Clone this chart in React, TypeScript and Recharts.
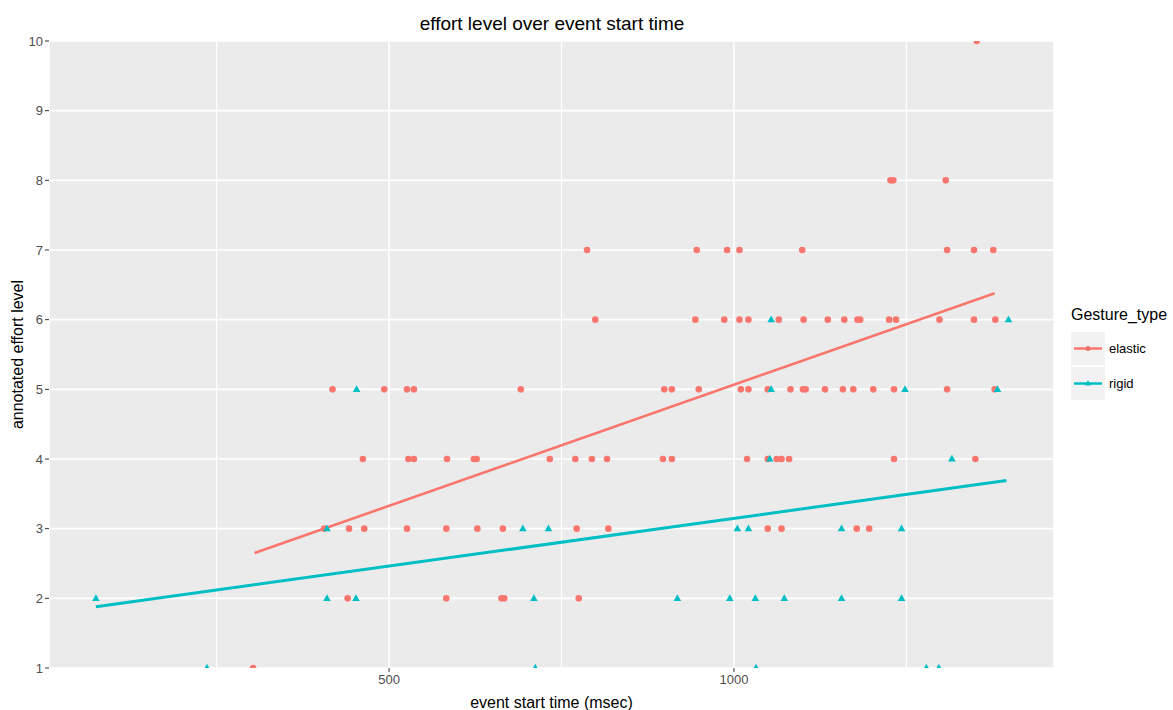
import React from 'react';
import {
  ComposedChart,
  Scatter,
  Line,
  XAxis,
  YAxis,
  CartesianGrid,
  ReferenceLine,
  Legend,
} from 'recharts';

const FONT = '"Liberation Sans", Arial, sans-serif';
const RED = '#F8766D';
const TEAL = '#00BFC4';

// [event start time (msec), annotated effort level]
const elasticPoints: [number, number][] = [
  [1352, 10],
  [1227, 8], [1231, 8], [1307, 8],
  [787, 7], [946, 7], [990, 7], [1008, 7], [1099, 7], [1309, 7], [1348, 7], [1376, 7],
  [799, 6], [944, 6], [986, 6], [1008, 6], [1021, 6], [1065, 6], [1101, 6], [1136, 6],
  [1160, 6], [1179, 6], [1183, 6], [1225, 6], [1235, 6], [1298, 6], [1348, 6], [1379, 6],
  [418, 5], [493, 5], [526, 5], [536, 5], [691, 5], [899, 5], [910, 5], [949, 5],
  [1010, 5], [1021, 5], [1049, 5], [1082, 5], [1100, 5], [1104, 5], [1132, 5], [1158, 5],
  [1173, 5], [1202, 5], [1232, 5], [1309, 5], [1378, 5],
  [462, 4], [528, 4], [536, 4], [584, 4], [623, 4], [627, 4], [733, 4], [770, 4],
  [794, 4], [816, 4], [897, 4], [910, 4], [1019, 4], [1049, 4], [1062, 4], [1069, 4],
  [1080, 4], [1232, 4], [1350, 4],
  [406, 3], [442, 3], [464, 3], [526, 3], [583, 3], [628, 3], [665, 3], [772, 3],
  [818, 3], [1049, 3], [1069, 3], [1178, 3], [1196, 3],
  [440, 2], [583, 2], [663, 2], [667, 2], [775, 2],
  [303, 1],
];

const rigidPoints: [number, number][] = [
  [1054, 6], [1398, 6],
  [453, 5], [1054, 5], [1248, 5], [1382, 5],
  [1052, 4], [1316, 4],
  [410, 3], [694, 3], [731, 3], [1005, 3], [1021, 3], [1156, 3], [1243, 3],
  [75, 2], [410, 2], [452, 2], [710, 2], [918, 2], [994, 2], [1031, 2], [1073, 2],
  [1156, 2], [1243, 2],
  [236, 1], [712, 1], [1032, 1], [1279, 1], [1297, 1],
];

// fitted trend lines (start / end)
const elasticFit: [number, number][] = [[305, 2.65], [1378, 6.38]];
const rigidFit: [number, number][] = [[75, 1.88], [1395, 3.69]];

const xTicks = [500, 1000];
const xMinor = [250, 750, 1250];
const yTicks = [1, 2, 3, 4, 5, 6, 7, 8, 9, 10];
const groups = ['elastic', 'rigid'];

const toXY = (pts: [number, number][]) => pts.map(([x, y]) => ({ x, y }));

const Dot = (props: any) => {
  if (props.cx == null || props.cy == null) return null;
  return <circle cx={props.cx} cy={props.cy} r={3.3} fill={RED} />;
};

const Tri = (props: any) => {
  if (props.cx == null || props.cy == null) return null;
  const { cx, cy } = props;
  return (
    <polygon
      points={`${cx},${cy - 4.2} ${cx - 3.8},${cy + 2.6} ${cx + 3.8},${cy + 2.6}`}
      fill={TEAL}
    />
  );
};

function LegendBox() {
  return (
    <div style={{ fontFamily: FONT, color: '#000' }}>
      <div style={{ fontSize: 16, lineHeight: '20px', height: 20, marginBottom: 6 }}>Gesture_type</div>
      {groups.map((g, i) => {
        const c = i === 0 ? RED : TEAL;
        return (
          <div key={g} style={{ display: 'flex', alignItems: 'center', height: 34, marginBottom: 1 }}>
            <svg width={34} height={33}>
              <rect x={0} y={0} width={34} height={33} fill="#F2F2F2" />
              <line x1={3} y1={16.5} x2={31} y2={16.5} stroke={c} strokeWidth={2.5} />
              {i === 0 ? (
                <circle cx={17} cy={16.5} r={2.5} fill={c} />
              ) : (
                <polygon points="17,13 14,18.5 20,18.5" fill={c} />
              )}
            </svg>
            <span style={{ fontSize: 13, marginLeft: 4 }}>{g}</span>
          </div>
        );
      })}
    </div>
  );
}

export default function App() {
  return (
    <div style={{ position: 'relative', width: 1173, height: 710, fontFamily: FONT, background: '#fff' }}>
      <style>{'body{margin:0}'}</style>
      <div
        style={{
          position: 'absolute',
          left: 0,
          top: 13,
          width: 1104,
          textAlign: 'center',
          fontSize: 19,
          lineHeight: '22px',
          color: '#000',
        }}
      >
        effort level over event start time
      </div>
      <ComposedChart
        width={1173}
        height={710}
        margin={{ top: 41, right: 119, bottom: 0, left: 0 }}
        style={{ fontFamily: FONT }}
      >
        <CartesianGrid fill="#EBEBEB" stroke="#FFFFFF" strokeWidth={1.6} />
        {xMinor.map((v) => (
          <ReferenceLine key={v} x={v} stroke="#FFFFFF" strokeWidth={1.2} />
        ))}
        <XAxis
          type="number"
          dataKey="x"
          domain={[7, 1464]}
          ticks={xTicks}
          allowDataOverflow
          height={42}
          axisLine={false}
          tickSize={4}
          tickMargin={3}
          tickLine={{ stroke: '#333333' }}
          tick={{ fontSize: 13, fill: '#4D4D4D' }}
          label={{ value: 'event start time (msec)', position: 'insideBottom', offset: 2, fontSize: 16, fill: '#000' }}
        />
        <YAxis
          type="number"
          dataKey="y"
          domain={[1, 10]}
          ticks={yTicks}
          allowDataOverflow
          width={49}
          axisLine={false}
          tickSize={4}
          tickMargin={2}
          tickLine={{ stroke: '#333333' }}
          tick={{ fontSize: 13, fill: '#4D4D4D' }}
          label={{
            value: 'annotated effort level',
            angle: -90,
            position: 'insideLeft',
            offset: 17,
            fontSize: 16,
            fill: '#000',
            style: { textAnchor: 'middle' },
          }}
        />
        <Scatter name="elastic" data={toXY(elasticPoints)} fill={RED} shape={Dot} isAnimationActive={false} />
        <Scatter name="rigid" data={toXY(rigidPoints)} fill={TEAL} shape={Tri} isAnimationActive={false} />
        <Line
          data={toXY(elasticFit)}
          dataKey="y"
          type="linear"
          stroke={RED}
          strokeWidth={2.6}
          dot={false}
          legendType="none"
          isAnimationActive={false}
        />
        <Line
          data={toXY(rigidFit)}
          dataKey="y"
          type="linear"
          stroke={TEAL}
          strokeWidth={3}
          dot={false}
          legendType="none"
          isAnimationActive={false}
        />
        <Legend
          layout="vertical"
          align="center"
          verticalAlign="middle"
          content={<LegendBox />}
          wrapperStyle={{ left: 1071, top: 305, width: 102 }}
        />
      </ComposedChart>
    </div>
  );
}
